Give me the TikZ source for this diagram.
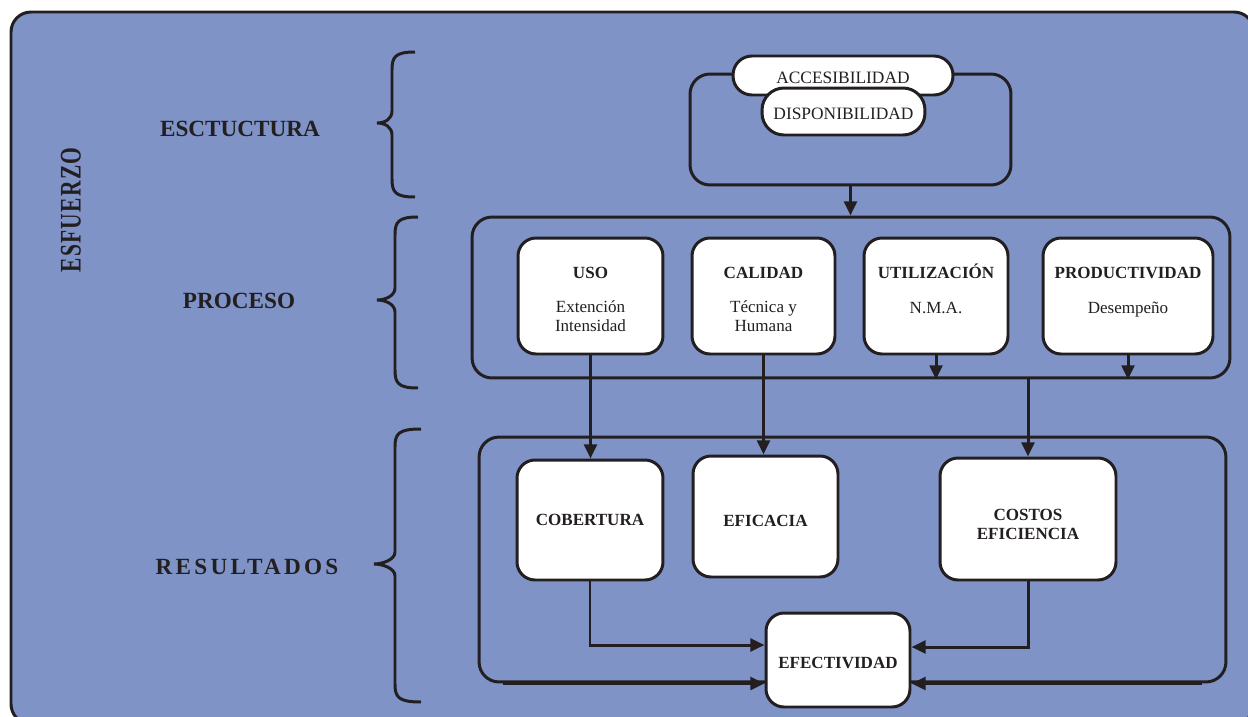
\documentclass[tikz,border=0pt]{standalone}
\usepackage{fontspec}
\setmainfont{Liberation Serif}
\usepackage{graphicx}
\usetikzlibrary{arrows.meta,decorations.pathreplacing,positioning}
\definecolor{fondo}{HTML}{7F93C7}
\definecolor{tinta}{HTML}{231F20}

\begin{document}
\begin{tikzpicture}[x=0.02cm,y=-0.02cm,
  linea/.style={draw=tinta,line width=1.7pt},
  marco/.style={linea,rounded corners=0.4cm,inner sep=0pt},
  caja/.style={linea,fill=white,rounded corners=0.36cm,align=center,inner sep=1pt,
    text=tinta,font=\fontsize{9.7}{10.5}\selectfont},
  pildora/.style={linea,fill=white,inner sep=0pt,text=tinta,
    font=\fontsize{9.9}{11}\selectfont},
  etapa/.style={text=tinta,font=\fontsize{13.2}{15}\selectfont\bfseries},
  flecha/.style={linea,-{Triangle[length=8pt,width=7.2pt]}}]
  \clip (0,0) rectangle (1248,717);
  \fill[white] (0,0) rectangle (1248,717);
  \draw[linea,fill=fondo,rounded corners=0.4cm] (11,12) rectangle (1254,724);

  % etiquetas de la izquierda
  \node[etapa,rotate=90] (esfuerzo) at (71,210)
    {\fontsize{17}{20}\selectfont\scalebox{0.72}[1]{\addfontfeature{LetterSpace=6}ESFUERZO}};
  \node[etapa] (lblestructura) at (240,129) {ESCTUCTURA};
  \node[etapa] (lblproceso) at (239,301) {PROCESO};
  \node[etapa] (lblresultados) at (247,567) {\addfontfeature{LetterSpace=14}RESULTADOS};

  % llaves
  \foreach \ya/\ym/\yb/\xe/\xv/\xt in {52/123/197/415/392/377,217/300/388/418/395/377,429/564/702/421/395/374}
    \draw[linea] (\xe,\ya) .. controls (\xv+3,\ya) and (\xv,\ya+5) .. (\xv,\ya+18) -- (\xv,\ym-12)
      .. controls (\xv,\ym-4) and (\xt+8,\ym) .. (\xt,\ym)
      .. controls (\xt+8,\ym) and (\xv,\ym+4) .. (\xv,\ym+12) -- (\xv,\yb-18)
      .. controls (\xv,\yb-5) and (\xv+3,\yb) .. (\xe,\yb);

  % estructura
  \node[marco,minimum width=6.42cm,minimum height=2.22cm] (estructura) at (850.5,129.5) {};
  \node[pildora,rounded corners=0.38cm,minimum width=4.4cm,minimum height=0.78cm] (acceso) at (843,75.5)
    {\rule{0pt}{8.8pt}ACCESIBILIDAD};
  \node[pildora,rounded corners=0.44cm,minimum width=3.26cm,minimum height=0.94cm] (dispon) at (843.5,111.5)
    {\rule{0pt}{8.8pt}DISPONIBILIDAD};

  % proceso
  \node[marco,minimum width=15.16cm,minimum height=3.22cm] (proceso) at (851,297.5) {};
  \node[caja,minimum width=2.9cm,minimum height=2.32cm] (uso) at (590.5,296)
    {\rule{0pt}{10.5pt}\textbf{USO}\\[8.8pt]Extención\\Intensidad};
  \node[caja,minimum width=2.86cm,minimum height=2.32cm] (calidad) at (763.5,296)
    {\rule{0pt}{10.5pt}\textbf{CALIDAD}\\[8.8pt]Técnica y\\Humana};
  \node[caja,minimum width=2.88cm,minimum height=2.32cm] (utilizacion) at (936,296)
    {\rule{0pt}{10.5pt}\textbf{UTILIZACIÓN}\\[9.6pt]N.M.A.\\ ~};
  \node[caja,minimum width=3.4cm,minimum height=2.32cm] (productividad) at (1128,296)
    {\rule{0pt}{10.5pt}\textbf{PRODUCTIVIDAD}\\[9.6pt]Desempeño\\ ~};

  % resultados
  \node[marco,minimum width=14.94cm,minimum height=4.9cm] (resultados) at (852.5,559.5) {};
  \node[caja,minimum width=2.92cm,minimum height=2.4cm] (cobertura) at (590,520) {\textbf{COBERTURA}};
  \node[caja,minimum width=2.9cm,minimum height=2.42cm] (eficacia) at (765.5,516.5)
    {\rule{0pt}{11.2pt}\textbf{EFICACIA}};
  \node[caja,minimum width=3.52cm,minimum height=2.44cm] (costos) at (1028,519)
    {\rule{0pt}{12.8pt}\textbf{COSTOS}\\\textbf{EFICIENCIA}};
  \node[caja,minimum width=2.88cm,minimum height=1.88cm] (efectividad) at (838,660)
    {\rule{0pt}{10pt}\textbf{EFECTIVIDAD}};

  % flechas
  \draw[flecha] (estructura.south) -- (estructura.south |- proceso.north);
  \draw[flecha] (uso.south) -- (uso.south |- cobertura.north);
  \draw[flecha] (calidad.south) -- (calidad.south |- eficacia.north);
  \draw[flecha] (utilizacion.south) -- (utilizacion.south |- proceso.south);
  \draw[flecha] (productividad.south) -- (productividad.south |- proceso.south);
  \draw[flecha] (costos.north |- proceso.south) -- (costos.north);
  \draw[flecha] (cobertura.south) |- ([yshift=0.3cm]efectividad.west);
  \draw[flecha] (costos.south) |- ([yshift=0.26cm]efectividad.east);
  \draw[flecha] ([xshift=0.5cm]resultados.south west) -- (efectividad.west |- resultados.south);
  \draw[flecha] ([xshift=-0.5cm]resultados.south east) -- (efectividad.east |- resultados.south);
\end{tikzpicture}
\end{document}
